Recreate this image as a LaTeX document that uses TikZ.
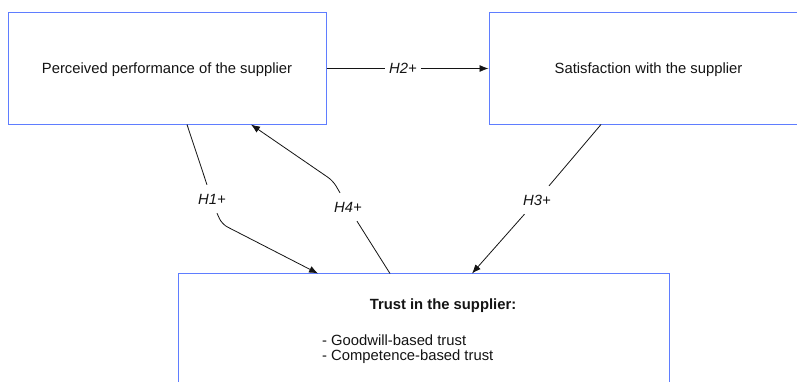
\documentclass[tikz,border=0pt]{standalone}
\usepackage{fontspec}
\setmainfont{Liberation Sans}
\usetikzlibrary{arrows.meta}
\definecolor{boxblue}{RGB}{95,125,255}
\definecolor{ink}{RGB}{20,20,20}
\tikzset{
  box/.style={draw=boxblue, line width=1pt, rectangle, inner sep=0pt, text=ink,
    text depth=0pt, font=\fontsize{14.8}{18}\selectfont},
  frame/.style={draw=boxblue, line width=1pt},
  hlabel/.style={font=\fontsize{14.8}{18}\selectfont\itshape, text=ink, inner xsep=4pt, inner ysep=0pt, minimum height=28pt},
  conn/.style={draw=ink, line width=0.8pt},
  arr/.style={conn, -{Latex[length=9pt,width=7pt]}},
  body/.style={font=\fontsize{14.8}{18}\selectfont, text=ink, inner sep=0pt}
}
\begin{document}
\begin{tikzpicture}[x=1pt,y=-1pt]
\useasboundingbox (0,0) rectangle (797,381);
\fill[white] (0,0) rectangle (797,381);
% boxes
\node[box, minimum width=318pt, minimum height=112pt] (A) at (167,68.5) {Perceived performance of the supplier};
\node[box, minimum width=319pt, minimum height=112pt] (B) at (648.5,68.5) {Satisfaction with the supplier};
\node[rectangle, inner sep=0pt, minimum width=490pt, minimum height=116pt] (C) at (424,331.5) {};
\draw[frame] (C.north west) rectangle (C.south east);
% texts in bottom box
\node[body, font=\fontsize{14.8}{18}\selectfont\bfseries] (ct) at (443,306) {Trust in the supplier:};
\node[body, anchor=west] (cg) at (322,340) {- Goodwill-based trust};
\node[body, anchor=west] (cc) at (322,357) {- Competence-based trust};
% labels
\node[hlabel] (h2) at (403,68.5) {H2+};
\node[hlabel] (h1) at (212,199) {H1+};
\node[hlabel] (h4) at (348,207) {H4+};
\node[hlabel] (h3) at (537,200) {H3+};
% attachment points
\coordinate (a1) at (187,124.5);
\coordinate (c1) at (318,273.5);
\coordinate (c4) at (390,273.5);
\coordinate (a4) at (251,124.5);
\coordinate (b3) at (601,124.5);
\coordinate (c3) at (472,273.5);
% H2
\draw[conn] (A.east) -- (h2.west);
\draw[arr] (h2.east) -- (B.west);
% H1
\draw[conn] (a1) -- ([xshift=-5pt]h1.north);
\draw[arr, rounded corners=6pt] ([xshift=5pt]h1.south) -- ++(5,11) -- (c1);
% H4
\draw[conn] (c4) -- ([xshift=9pt]h4.south);
\draw[arr, rounded corners=6pt] ([xshift=-8pt]h4.north) -- ++(-7,-12) -- (a4);
% H3
\draw[conn] (b3) -- (h3);
\draw[arr] (h3) -- (c3);
\end{tikzpicture}
\end{document}
